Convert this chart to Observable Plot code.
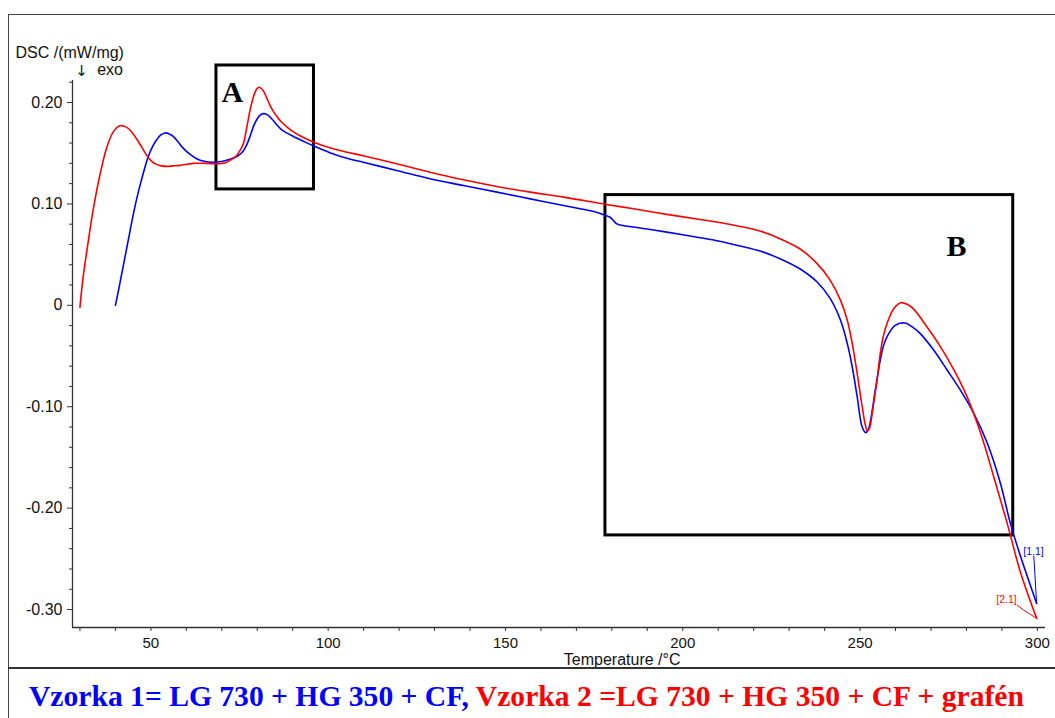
<!DOCTYPE html>
<html>
<head>
<meta charset="utf-8">
<script src="https://cdn.jsdelivr.net/npm/d3@7"></script>
<script src="https://cdn.jsdelivr.net/npm/@observablehq/plot@0.6"></script>
<style>
  html, body { margin: 0; padding: 0; background: #fff; }
  body { width: 1055px; height: 718px; overflow: hidden; position: relative; font-family: "Liberation Sans", Arial, sans-serif; }
  #frame { position: absolute; left: 8px; top: 14px; width: 1200px; height: 900px; border-left: 1.5px solid #444; border-top: 1.5px solid #444; }
  #chart { position: absolute; left: 0; top: 0; }
  #legendbox { position: absolute; left: 8px; top: 667px; width: 1200px; height: 80px; border-top: 2px solid #333; }
  #legend { position: absolute; left: 29px; top: 682px; white-space: pre; font-family: "Liberation Serif", "Times New Roman", serif; font-weight: bold; font-size: 29.6px; line-height: 29.6px; }
</style>
</head>
<body>
<div id="frame"></div>
<div id="chart"></div>
<div id="legendbox"></div>
<div id="legend"></div>
<script>
// ---- Data ----
const seriesNames = ["Vzorka 1= LG 730 + HG 350 + CF, ", "Vzorka 2 =LG 730 + HG 350 + CF + grafén"];
const seriesColors = ["#0000ff", "#ff0000"];

// Vzorka 1 (blue): temperature (°C) and DSC (mW/mg)
const temp1 = [40.0, 41.0, 42.0, 43.0, 44.0, 45.0, 46.0, 47.0, 48.0, 49.2, 50.4, 51.6, 52.8, 54.0, 55.2, 56.3, 57.7, 59.1, 61.0, 62.9, 65.0, 67.6, 70.0, 72.3, 74.6, 76.0, 77.0, 78.0, 79.0, 80.0, 81.0, 81.9, 83.0, 84.2, 85.4, 86.6, 88.0, 90.2, 93.0, 95.8, 100.5, 105.0, 109.9, 119.3, 128.7, 138.1, 147.6, 157.0, 166.4, 170.0, 174.9, 177.5, 179.5, 180.5, 181.3, 182.3, 186.1, 195.5, 204.9, 210.0, 216.2, 221.8, 227.4, 233.0, 237.9, 241.6, 244.5, 246.4, 247.8, 249.2, 250.6, 251.6, 252.4, 253.0, 254.3, 255.7, 256.6, 257.6, 259.9, 262.6, 265.0, 267.0, 270.8, 274.6, 278.3, 282.1, 285.9, 289.6, 292.4, 295.3, 299.8];
const dsc1  = [0.0, 0.017, 0.035, 0.053, 0.071, 0.089, 0.105, 0.119, 0.132, 0.146, 0.156, 0.163, 0.168, 0.170, 0.169, 0.1665, 0.161, 0.155, 0.149, 0.1445, 0.142, 0.141, 0.1418, 0.144, 0.1475, 0.152, 0.158, 0.167, 0.177, 0.184, 0.188, 0.189, 0.1875, 0.1835, 0.1785, 0.174, 0.1705, 0.1665, 0.1618, 0.1573, 0.1505, 0.1452, 0.141, 0.133, 0.1248, 0.1182, 0.1116, 0.105, 0.0985, 0.096, 0.0925, 0.0895, 0.0868, 0.0835, 0.0805, 0.0792, 0.0772, 0.0722, 0.0667, 0.0635, 0.0585, 0.0535, 0.046, 0.0361, 0.023, 0.0066, -0.0148, -0.0377, -0.0608, -0.0903, -0.120, -0.1255, -0.122, -0.113, -0.0837, -0.054, -0.040, -0.031, -0.0197, -0.0174, -0.022, -0.0279, -0.0443, -0.064, -0.0837, -0.1067, -0.136, -0.1757, -0.215, -0.248, -0.294];

// Vzorka 2 (red)
const temp2 = [30.0, 30.9, 32.3, 33.7, 35.6, 37.5, 39.4, 41.25, 43.1, 44.6, 46.0, 47.6, 49.2, 50.4, 51.6, 53.0, 54.4, 56.3, 58.2, 61.9, 65.7, 69.5, 71.0, 72.3, 74.0, 75.1, 76.05, 77.0, 78.0, 79.0, 79.8, 80.5, 81.5, 82.5, 83.5, 84.5, 85.7, 86.9, 88.5, 90.2, 92.1, 94.2, 96.3, 100.5, 105.0, 109.9, 119.3, 128.7, 138.1, 147.6, 157.0, 166.4, 178.4, 186.1, 195.5, 204.9, 210.0, 216.2, 221.8, 227.4, 233.0, 237.9, 241.6, 244.5, 246.4, 247.8, 249.2, 250.6, 251.5, 252.1, 252.7, 253.4, 254.2, 254.8, 255.7, 256.6, 257.6, 259.5, 261.5, 263.3, 265.2, 268.9, 272.7, 276.5, 280.2, 284.0, 287.7, 291.5, 295.3, 299.8];
const dsc2  = [-0.002, 0.028, 0.062, 0.0936, 0.128, 0.155, 0.171, 0.177, 0.1757, 0.171, 0.164, 0.155, 0.146, 0.1415, 0.139, 0.1375, 0.137, 0.1375, 0.138, 0.140, 0.140, 0.1396, 0.1405, 0.143, 0.147, 0.1525, 0.159, 0.1745, 0.193, 0.2065, 0.213, 0.215, 0.2125, 0.206, 0.198, 0.1915, 0.1855, 0.1805, 0.1755, 0.171, 0.1672, 0.1635, 0.1603, 0.1553, 0.1512, 0.1475, 0.1396, 0.1313, 0.1238, 0.1172, 0.1116, 0.1067, 0.0995, 0.0952, 0.0897, 0.0847, 0.082, 0.0778, 0.0732, 0.0657, 0.0558, 0.0411, 0.0246, 0.0049, -0.0148, -0.0377, -0.0673, -0.100, -0.118, -0.124, -0.121, -0.107, -0.088, -0.0739, -0.0476, -0.030, -0.018, -0.0033, 0.0026, 0.001, -0.004, -0.0214, -0.041, -0.064, -0.0903, -0.126, -0.169, -0.215, -0.264, -0.3087];

// Axes
const xDomain = [27.9, 302.3];
const yDomain = [-0.3177, 0.2217];
const yMajorTicks = [0.2, 0.1, 0, -0.1, -0.2, -0.3];
const yMajorLabels = ["0.20", "0.10", "0", "-0.10", "-0.20", "-0.30"];
const yMinorTicks = [0.22, 0.18, 0.16, 0.14, 0.12, 0.08, 0.06, 0.04, 0.02, -0.02, -0.04, -0.06, -0.08, -0.12, -0.14, -0.16, -0.18, -0.22, -0.24, -0.26, -0.28];
const xTicks = [30, 40, 50, 60, 70, 80, 90, 100, 110, 120, 130, 140, 150, 160, 170, 180, 190, 200, 210, 220, 230, 240, 250, 260, 270, 280, 290, 300];
const xTickLabels = {50: "50", 100: "100", 150: "150", 200: "200", 250: "250", 300: "300"};
const xLabel = "Temperature /°C";
const xLabelAt = [182.9];
const yLabel = "DSC /(mW/mg)";

// Annotation boxes (data units)
const boxNames = ["A", "B"];
const boxX1 = [68.5, 178.2];
const boxX2 = [96.0, 293.2];
const boxY1 = [0.1143, -0.2269];
const boxY2 = [0.2365, 0.1087];
const boxLabelX = [73.0, 277.2];
const boxLabelY = [0.2099, 0.0586];

// Curve end labels
const endLabels = ["[1.1]", "[2.1]"];
const endLabelX = [298.9, 291.3];
const endLabelY = [-0.2424, -0.2906];
const leader1T = [299.0, 299.8];
const leader1V = [-0.2473, -0.294];
const leader2T = [294.3, 296.1, 299.8];
const leader2V = [-0.2956, -0.3005, -0.3087];

// ---- Build tables ----
const s1 = temp1.map((t, i) => ({t, v: dsc1[i]}));
const s2 = temp2.map((t, i) => ({t, v: dsc2[i]}));
const boxes = boxNames.map((n, i) => ({n, x1: boxX1[i], x2: boxX2[i], y1: boxY1[i], y2: boxY2[i], lx: boxLabelX[i], ly: boxLabelY[i]}));
const ends = endLabels.map((n, i) => ({n, x: endLabelX[i], y: endLabelY[i], c: seriesColors[i]}));
const l1 = leader1T.map((t, i) => ({t, v: leader1V[i]}));
const l2 = leader2T.map((t, i) => ({t, v: leader2V[i]}));

const axisColor = "#333";

const chart = Plot.plot({
  width: 1055,
  height: 668,
  marginLeft: 72,
  marginRight: 10,
  marginTop: 80,
  marginBottom: 41,
  x: {domain: xDomain},
  y: {domain: yDomain},
  style: {fontFamily: "'Liberation Sans', Arial, sans-serif", background: "transparent", color: "#111"},
  marks: [
    // axis lines
    Plot.ruleX([xDomain[0]], {stroke: axisColor, strokeWidth: 1.3}),
    Plot.ruleY([yDomain[0]], {stroke: axisColor, strokeWidth: 1.3}),
    // y ticks
    Plot.axisY(yMajorTicks, {tickSize: 5, tickPadding: 5, tickFormat: d => yMajorLabels[yMajorTicks.indexOf(d)], fontSize: 16, label: null, stroke: axisColor, fill: "#111"}),
    Plot.axisY(yMinorTicks, {tickSize: 3, tickFormat: () => "", label: null, stroke: axisColor}),
    // x ticks
    Plot.axisX(xTicks, {tickSize: 4, tickPadding: 6, tickFormat: d => xTickLabels[d] || "", fontSize: 15, label: null, stroke: axisColor, fill: "#111"}),
    // axis titles
    Plot.text(xLabelAt, {x: d => d, frameAnchor: "bottom", lineAnchor: "bottom", dy: 37, text: () => xLabel, fontSize: 16, fill: "#111"}),
    Plot.text([yLabel], {frameAnchor: "top-left", lineAnchor: "top", dx: -57, dy: -33.7, textAnchor: "start", text: d => d, fontSize: 16, fill: "#111"}),
    Plot.text(["↓"], {frameAnchor: "top-left", lineAnchor: "top", dx: 9, dy: -15.5, textAnchor: "middle", text: d => d, fontSize: 15, fontFamily: "'DejaVu Sans', sans-serif", fill: "#111"}),
    Plot.text(["exo"], {frameAnchor: "top-left", lineAnchor: "top", dx: 24.7, dy: -16.4, textAnchor: "start", text: d => d, fontSize: 16, fill: "#111"}),
    // annotation boxes
    Plot.rect(boxes, {x1: "x1", x2: "x2", y1: "y1", y2: "y2", fill: "none", stroke: "#000", strokeWidth: 3}),
    Plot.text(boxes, {x: "lx", y: "ly", text: "n", fontSize: 30, fontWeight: "bold", fontFamily: "'Liberation Serif', 'Times New Roman', serif", fill: "#000"}),
    // curves
    Plot.line(s1, {x: "t", y: "v", stroke: seriesColors[0], strokeWidth: 1.6, curve: "catmull-rom"}),
    Plot.line(s2, {x: "t", y: "v", stroke: seriesColors[1], strokeWidth: 1.6, curve: "catmull-rom"}),
    // end labels and leaders
    Plot.line(l1, {x: "t", y: "v", stroke: seriesColors[0], strokeWidth: 1}),
    Plot.line(l2, {x: "t", y: "v", stroke: seriesColors[1], strokeWidth: 1}),
    Plot.text(ends, {x: "x", y: "y", text: "n", fill: "c", fontSize: 10.5})
  ]
});
document.getElementById("chart").appendChild(chart);

const legend = document.getElementById("legend");
seriesNames.forEach((n, i) => {
  const s = document.createElement("span");
  s.textContent = n;
  s.style.color = seriesColors[i];
  legend.appendChild(s);
});
</script>
</body>
</html>
